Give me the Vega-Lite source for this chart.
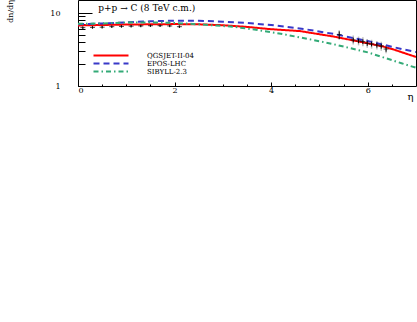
{
  "$schema": "https://vega.github.io/schema/vega-lite/v6.json",
  "width": 338,
  "height": 86,
  "autosize": "none",
  "padding": {"left": 78, "top": 0, "right": 1, "bottom": 236},
  "background": "white",
  "datasets": {
    "curves": [
      {"model": "QGSJET-II-04", "eta": 0.0, "val": 6.75},
      {"model": "QGSJET-II-04", "eta": 0.5, "val": 6.85},
      {"model": "QGSJET-II-04", "eta": 1.0, "val": 6.95},
      {"model": "QGSJET-II-04", "eta": 1.5, "val": 7.0},
      {"model": "QGSJET-II-04", "eta": 2.0, "val": 7.05},
      {"model": "QGSJET-II-04", "eta": 2.5, "val": 7.0},
      {"model": "QGSJET-II-04", "eta": 3.0, "val": 6.8},
      {"model": "QGSJET-II-04", "eta": 3.5, "val": 6.45},
      {"model": "QGSJET-II-04", "eta": 4.0, "val": 6.0},
      {"model": "QGSJET-II-04", "eta": 4.6, "val": 5.65},
      {"model": "QGSJET-II-04", "eta": 5.3, "val": 4.75},
      {"model": "QGSJET-II-04", "eta": 6.0, "val": 3.85},
      {"model": "QGSJET-II-04", "eta": 6.3, "val": 3.5},
      {"model": "QGSJET-II-04", "eta": 6.5, "val": 3.22},
      {"model": "QGSJET-II-04", "eta": 7.0, "val": 2.5},
      {"model": "EPOS-LHC", "eta": 0.0, "val": 7.0},
      {"model": "EPOS-LHC", "eta": 0.5, "val": 7.2},
      {"model": "EPOS-LHC", "eta": 1.0, "val": 7.45},
      {"model": "EPOS-LHC", "eta": 1.5, "val": 7.7},
      {"model": "EPOS-LHC", "eta": 2.0, "val": 7.85},
      {"model": "EPOS-LHC", "eta": 2.5, "val": 7.85},
      {"model": "EPOS-LHC", "eta": 3.0, "val": 7.6},
      {"model": "EPOS-LHC", "eta": 3.5, "val": 7.3},
      {"model": "EPOS-LHC", "eta": 4.0, "val": 6.85},
      {"model": "EPOS-LHC", "eta": 4.7, "val": 6.0},
      {"model": "EPOS-LHC", "eta": 5.3, "val": 5.16},
      {"model": "EPOS-LHC", "eta": 6.0, "val": 4.13},
      {"model": "EPOS-LHC", "eta": 6.7, "val": 3.21},
      {"model": "EPOS-LHC", "eta": 7.0, "val": 2.92},
      {"model": "SIBYLL-2.3", "eta": 0.0, "val": 7.1},
      {"model": "SIBYLL-2.3", "eta": 0.5, "val": 7.2},
      {"model": "SIBYLL-2.3", "eta": 1.0, "val": 7.4},
      {"model": "SIBYLL-2.3", "eta": 1.5, "val": 7.45},
      {"model": "SIBYLL-2.3", "eta": 2.0, "val": 7.3},
      {"model": "SIBYLL-2.3", "eta": 2.5, "val": 7.0},
      {"model": "SIBYLL-2.3", "eta": 3.2, "val": 6.5},
      {"model": "SIBYLL-2.3", "eta": 3.6, "val": 6.0},
      {"model": "SIBYLL-2.3", "eta": 4.2, "val": 5.2},
      {"model": "SIBYLL-2.3", "eta": 4.8, "val": 4.36},
      {"model": "SIBYLL-2.3", "eta": 5.3, "val": 3.73},
      {"model": "SIBYLL-2.3", "eta": 6.0, "val": 2.89},
      {"model": "SIBYLL-2.3", "eta": 6.7, "val": 2.05},
      {"model": "SIBYLL-2.3", "eta": 7.0, "val": 1.78}
    ],
    "points": [
      {"eta": 0.1, "val": 6.3, "lo": 6.05, "hi": 6.55, "slo": 6.05, "shi": 6.55},
      {"eta": 0.3, "val": 6.35, "lo": 6.1, "hi": 6.6, "slo": 6.1, "shi": 6.6},
      {"eta": 0.5, "val": 6.4, "lo": 6.15, "hi": 6.65, "slo": 6.15, "shi": 6.65},
      {"eta": 0.7, "val": 6.5, "lo": 6.25, "hi": 6.75, "slo": 6.25, "shi": 6.75},
      {"eta": 0.9, "val": 6.55, "lo": 6.3, "hi": 6.8, "slo": 6.3, "shi": 6.8},
      {"eta": 1.1, "val": 6.6, "lo": 6.35, "hi": 6.85, "slo": 6.35, "shi": 6.85},
      {"eta": 1.3, "val": 6.65, "lo": 6.4, "hi": 6.9, "slo": 6.4, "shi": 6.9},
      {"eta": 1.5, "val": 6.7, "lo": 6.45, "hi": 6.95, "slo": 6.45, "shi": 6.95},
      {"eta": 1.7, "val": 6.7, "lo": 6.45, "hi": 6.95, "slo": 6.45, "shi": 6.95},
      {"eta": 1.9, "val": 6.65, "lo": 6.4, "hi": 6.9, "slo": 6.4, "shi": 6.9},
      {"eta": 2.1, "val": 6.5, "lo": 6.25, "hi": 6.75, "slo": 6.25, "shi": 6.75},
      {"eta": 5.41, "val": 5.05, "lo": 4.4, "hi": 5.6, "slo": 4.3, "shi": 5.8},
      {"eta": 5.7, "val": 4.27, "lo": 3.95, "hi": 4.6, "slo": 3.7, "shi": 4.9},
      {"eta": 5.81, "val": 4.14, "lo": 3.85, "hi": 4.45, "slo": 3.6, "shi": 4.75},
      {"eta": 5.9, "val": 4.05, "lo": 3.75, "hi": 4.35, "slo": 3.5, "shi": 4.65},
      {"eta": 5.99, "val": 3.84, "lo": 3.55, "hi": 4.15, "slo": 3.35, "shi": 4.4},
      {"eta": 6.08, "val": 3.76, "lo": 3.48, "hi": 4.05, "slo": 3.25, "shi": 4.3},
      {"eta": 6.19, "val": 3.64, "lo": 3.36, "hi": 3.92, "slo": 3.15, "shi": 4.15},
      {"eta": 6.28, "val": 3.53, "lo": 3.25, "hi": 3.8, "slo": 3.05, "shi": 4.05},
      {"eta": 6.38, "val": 3.21, "lo": 2.95, "hi": 3.47, "slo": 2.8, "shi": 3.65}
    ],
    "label": [{"text": "p+p → C (8 TeV c.m.)"}],
    "ytitle": [{"text": "dn/dη"}]
  },
  "layer": [
    {
      "data": {"name": "points"},
      "mark": {"type": "rule", "color": "#bbbbbb", "strokeWidth": 1.5},
      "encoding": {
        "x": {"field": "eta", "type": "quantitative", "scale": {"domain": [0, 7], "nice": false, "zero": false},
              "axis": {"values": [0.5, 1, 1.5, 2.5, 3, 3.5, 4.5, 5, 5.5, 6.5], "labels": false, "tickSize": -2, "title": null, "orient": "bottom"}},
        "y": {"field": "slo", "type": "quantitative", "scale": {"type": "log", "domain": [1, 15.07], "nice": false},
              "axis": {"values": [2, 3, 4, 5, 6, 7, 8, 9], "labels": false, "tickSize": -7, "title": null, "orient": "left"}},
        "y2": {"field": "shi"}
      }
    },
    {
      "data": {"name": "curves"},
      "mark": {"type": "line", "strokeWidth": 2, "clip": true},
      "encoding": {
        "x": {"field": "eta", "type": "quantitative",
              "axis": {"values": [0, 2, 4, 6], "tickSize": -4, "labelPadding": 4, "labelBaseline": "top", "labelFontSize": 8,
                       "title": "η", "titleX": 332, "titleY": 10, "titleAlign": "center", "titleBaseline": "middle", "titleFontSize": 10, "orient": "bottom"}},
        "y": {"field": "val", "type": "quantitative",
              "axis": {"values": [1, 10], "tickSize": -14, "labelPadding": 32, "labelFontSize": 8, "labelBaseline": "middle",
                       "title": null, "orient": "left"}},
        "color": {"field": "model", "type": "nominal",
                  "scale": {"domain": ["QGSJET-II-04", "EPOS-LHC", "SIBYLL-2.3"], "range": ["#ff0000", "#3838c8", "#33aa77"]},
                  "legend": {"orient": "none", "legendX": 29.5, "legendY": 52, "title": null, "symbolType": "M-8.75,0H8.75", "symbolSize": 16,
                             "symbolStrokeWidth": 2, "symbolFillColor": "transparent", "labelFont": "DejaVu Serif", "labelFontSize": 7,
                             "labelColor": "black", "labelOffset": 32.5, "rowPadding": -1, "padding": 0}},
        "strokeDash": {"field": "model", "type": "nominal",
                       "scale": {"domain": ["QGSJET-II-04", "EPOS-LHC", "SIBYLL-2.3"], "range": [[1, 0], [6, 4], [5, 3, 1.5, 3]]},
                       "legend": {"orient": "none", "legendX": 29.5, "legendY": 52, "title": null, "symbolType": "M-8.75,0H8.75", "symbolSize": 16,
                             "symbolStrokeWidth": 2, "symbolFillColor": "transparent", "labelFont": "DejaVu Serif", "labelFontSize": 7,
                             "labelColor": "black", "labelOffset": 32.5, "rowPadding": -1, "padding": 0}}
      }
    },
    {
      "data": {"name": "points"},
      "mark": {"type": "rule", "color": "black", "strokeWidth": 1},
      "encoding": {
        "x": {"field": "eta", "type": "quantitative", "axis": null},
        "y": {"field": "lo", "type": "quantitative", "axis": null},
        "y2": {"field": "hi"}
      }
    },
    {
      "data": {"name": "points"},
      "mark": {"type": "tick", "orient": "horizontal", "color": "black", "size": 5, "thickness": 1},
      "encoding": {
        "x": {"field": "eta", "type": "quantitative", "axis": null},
        "y": {"field": "val", "type": "quantitative", "axis": null}
      }
    },
    {
      "data": {"name": "label"},
      "mark": {"type": "text", "align": "left", "baseline": "middle", "font": "DejaVu Serif", "fontSize": 9, "color": "black"},
      "encoding": {
        "x": {"datum": 0.42, "type": "quantitative", "axis": null},
        "y": {"datum": 11.7, "type": "quantitative", "axis": null},
        "text": {"field": "text"}
      }
    },
    {
      "data": {"name": "ytitle"},
      "mark": {"type": "text", "angle": 270, "align": "right", "baseline": "middle", "font": "DejaVu Serif", "fontSize": 8, "color": "black", "clip": false},
      "encoding": {
        "x": {"datum": -1.39, "type": "quantitative", "axis": null},
        "y": {"datum": 15.07, "type": "quantitative", "axis": null},
        "text": {"field": "text"}
      }
    }
  ],
  "resolve": {"axis": {"x": "independent", "y": "independent"}},
  "config": {
    "view": {"stroke": "black", "strokeWidth": 1},
    "axis": {"domain": false, "grid": false, "tickColor": "black", "tickWidth": 1, "labelColor": "black",
             "labelFont": "DejaVu Serif", "titleFont": "DejaVu Serif", "titleFontWeight": "normal", "titleColor": "black"}
  }
}
